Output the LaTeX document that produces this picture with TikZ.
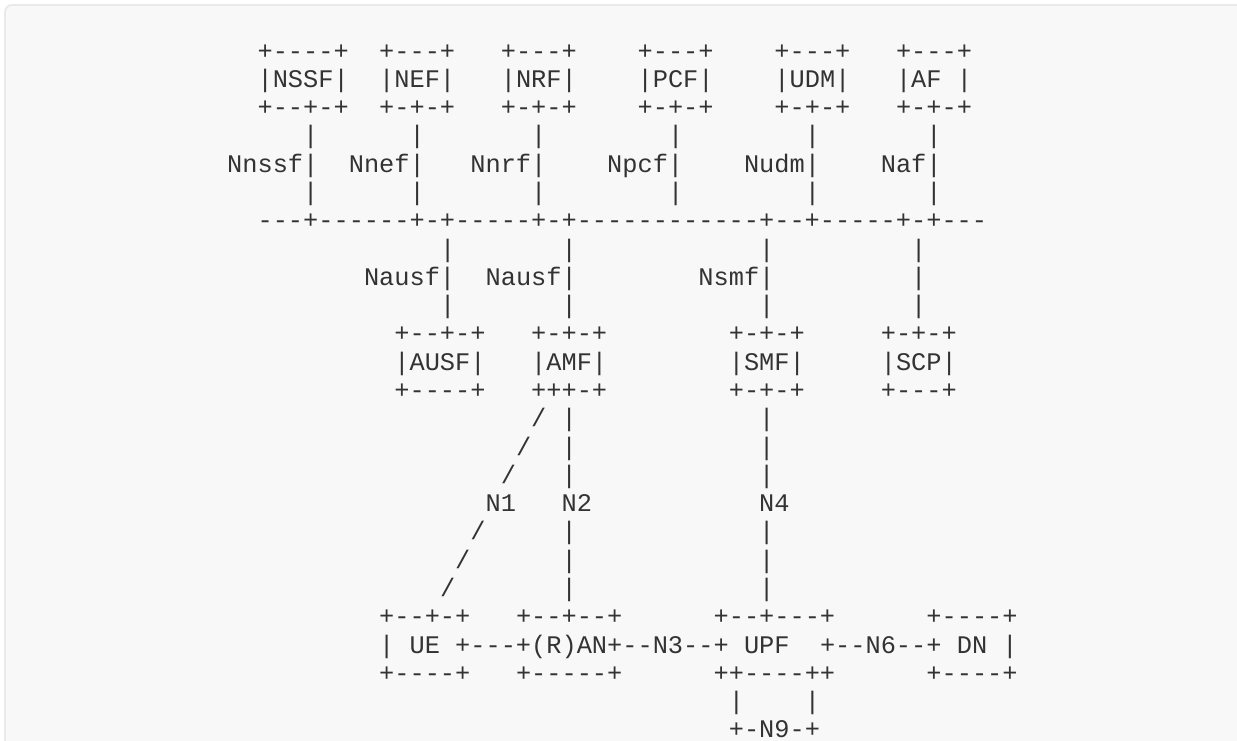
\documentclass[tikz,border=0pt]{standalone}
\usepackage{fontspec}
\setmonofont{Liberation Mono}
\definecolor{txtc}{HTML}{333333}
\definecolor{boxbg}{HTML}{F8F8F8}
\definecolor{boxline}{HTML}{E9E9E9}
\newcommand\seg[4]{\node[asc] (#1) at ({227.2+15.2*#3},{-59-28.29*#2}) {#4};}
\begin{document}
\begin{tikzpicture}[x=1pt,y=1pt,
  asc/.style={font=\ttfamily\fontsize{25.33pt}{28.29pt}\selectfont, text=txtc,
    inner sep=0pt, outer sep=0pt, anchor=base west}]
\useasboundingbox (0,0) rectangle (1237,-740);
\clip (0,0) rectangle (1237,-740);
\fill[white] (0,0) rectangle (1237,-740);
\draw[fill=boxbg, draw=boxline, line width=1.8pt, rounded corners=7pt] (5,-5) rectangle (1260,-780);
% row 0
\seg{nssfT}{0}{2}{+----+}
\seg{nefT}{0}{10}{+---+}
\seg{nrfT}{0}{18}{+---+}
\seg{pcfT}{0}{27}{+---+}
\seg{udmT}{0}{36}{+---+}
\seg{afT}{0}{44}{+---+}
% row 1
\seg{nssf}{1}{2}{|NSSF|}
\seg{nef}{1}{10}{|NEF|}
\seg{nrf}{1}{18}{|NRF|}
\seg{pcf}{1}{27}{|PCF|}
\seg{udm}{1}{36}{|UDM|}
\seg{af}{1}{44}{|AF}
\seg{afR}{1}{48}{|}
% row 2
\seg{nssfB}{2}{2}{+--+-+}
\seg{nefB}{2}{10}{+-+-+}
\seg{nrfB}{2}{18}{+-+-+}
\seg{pcfB}{2}{27}{+-+-+}
\seg{udmB}{2}{36}{+-+-+}
\seg{afB}{2}{44}{+-+-+}
% row 3
\seg{v3a}{3}{5}{|}
\seg{v3b}{3}{12}{|}
\seg{v3c}{3}{20}{|}
\seg{v3d}{3}{29}{|}
\seg{v3e}{3}{38}{|}
\seg{v3f}{3}{46}{|}
% row 4
\seg{lnssf}{4}{0}{Nnssf|}
\seg{lnef}{4}{8}{Nnef|}
\seg{lnrf}{4}{16}{Nnrf|}
\seg{lpcf}{4}{25}{Npcf|}
\seg{ludm}{4}{34}{Nudm|}
\seg{laf}{4}{43}{Naf|}
% row 5
\seg{v5a}{5}{5}{|}
\seg{v5b}{5}{12}{|}
\seg{v5c}{5}{20}{|}
\seg{v5d}{5}{29}{|}
\seg{v5e}{5}{38}{|}
\seg{v5f}{5}{46}{|}
% row 6 bus
\seg{bus}{6}{2}{---+------+-+-----+-+------------+--+-----+-+---}
% row 7
\seg{v7a}{7}{14}{|}
\seg{v7b}{7}{22}{|}
\seg{v7c}{7}{35}{|}
\seg{v7d}{7}{45}{|}
% row 8
\seg{lausf}{8}{9}{Nausf|}
\seg{lausfb}{8}{17}{Nausf|}
\seg{lsmf}{8}{31}{Nsmf|}
\seg{v8d}{8}{45}{|}
% row 9
\seg{v9a}{9}{14}{|}
\seg{v9b}{9}{22}{|}
\seg{v9c}{9}{35}{|}
\seg{v9d}{9}{45}{|}
% row 10
\seg{ausfT}{10}{11}{+--+-+}
\seg{amfT}{10}{20}{+-+-+}
\seg{smfT}{10}{33}{+-+-+}
\seg{scpT}{10}{43}{+-+-+}
% row 11
\seg{ausf}{11}{11}{|AUSF|}
\seg{amf}{11}{20}{|AMF|}
\seg{smf}{11}{33}{|SMF|}
\seg{scp}{11}{43}{|SCP|}
% row 12
\seg{ausfB}{12}{11}{+----+}
\seg{amfB}{12}{20}{+++-+}
\seg{smfB}{12}{33}{+-+-+}
\seg{scpB}{12}{43}{+---+}
% rows 13-15
\seg{s13}{13}{20}{/}
\seg{v13a}{13}{22}{|}
\seg{v13b}{13}{35}{|}
\seg{s14}{14}{19}{/}
\seg{v14a}{14}{22}{|}
\seg{v14b}{14}{35}{|}
\seg{s15}{15}{18}{/}
\seg{v15a}{15}{22}{|}
\seg{v15b}{15}{35}{|}
% row 16
\seg{nA}{16}{17}{N1}
\seg{nB}{16}{22}{N2}
\seg{nC}{16}{35}{N4}
% rows 17-19
\seg{s17}{17}{16}{/}
\seg{v17a}{17}{22}{|}
\seg{v17b}{17}{35}{|}
\seg{s18}{18}{15}{/}
\seg{v18a}{18}{22}{|}
\seg{v18b}{18}{35}{|}
\seg{s19}{19}{14}{/}
\seg{v19a}{19}{22}{|}
\seg{v19b}{19}{35}{|}
% row 20
\seg{ueT}{20}{10}{+--+-+}
\seg{ranT}{20}{19}{+--+--+}
\seg{upfT}{20}{32}{+--+---+}
\seg{dnT}{20}{46}{+----+}
% row 21
\seg{ueL}{21}{10}{|}
\seg{ue}{21}{12}{UE}
\seg{ran}{21}{15}{+---+(R)AN+--N3--+}
\seg{upf}{21}{34}{UPF}
\seg{nSix}{21}{39}{+--N6--+}
\seg{dn}{21}{48}{DN}
\seg{dnR}{21}{51}{|}
% row 22
\seg{ueB}{22}{10}{+----+}
\seg{ranB}{22}{19}{+-----+}
\seg{upfB}{22}{32}{++----++}
\seg{dnB}{22}{46}{+----+}
% row 23
\seg{v23a}{23}{33}{|}
\seg{v23b}{23}{38}{|}
% row 24
\seg{nNine}{24}{33}{+-N9-+}
\end{tikzpicture}
\end{document}
